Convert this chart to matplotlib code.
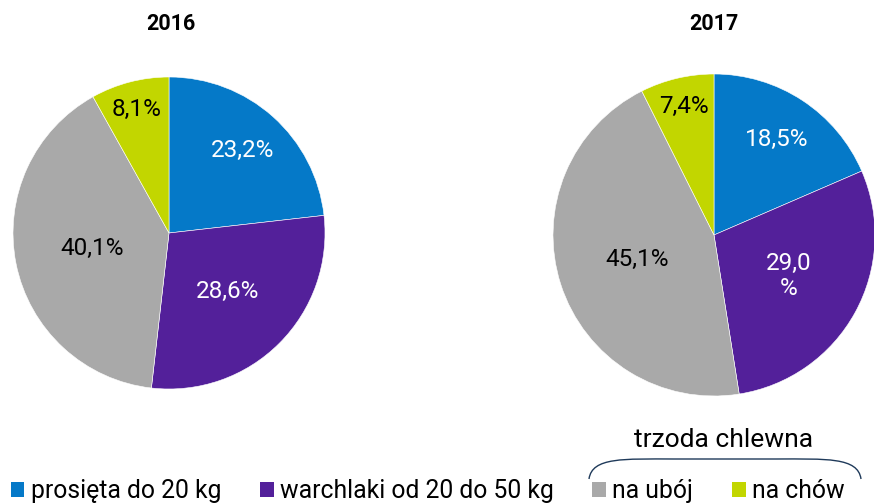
"""
Struktura zakupu trzody chlewnej 2016 vs 2017 - dwa wykresy kolowe.
"""
import numpy as np
import matplotlib.pyplot as plt
from matplotlib.path import Path
from matplotlib.patches import PathPatch, Patch

plt.rcParams['font.family'] = ['Roboto', 'DejaVu Sans']

categories = ["prosięta do 20 kg", "warchlaki od 20 do 50 kg", "na ubój", "na chów"]
years = ["2016", "2017"]
shares_2016 = [23.2, 28.6, 40.1, 8.1]
shares_2017 = [18.5, 29.0, 45.1, 7.4]
label_texts_2016 = ["23,2%", "28,6%", "40,1%", "8,1%"]
label_texts_2017 = ["18,5%", "29,0\n%", "45,1%", "7,4%"]
group_label = "trzoda chlewna"

colors = ["#0579C8", "#53209A", "#A9A9A9", "#C2D600"]
text_colors = ["white", "white", "black", "black"]
label_dist = [0.71, 0.53, 0.50, 0.82]

W, H = 874, 504


def px_axes(fig, cx, cy, r):
    # cx, cy in pixels from top-left
    return fig.add_axes([(cx - r) / W, (H - cy - r) / H, 2 * r / W, 2 * r / H])


def draw_pie(ax, values, texts):
    wedges, _ = ax.pie(values, colors=colors, startangle=90, counterclock=False,
                       radius=1, wedgeprops=dict(edgecolor="white", linewidth=0.4))
    for w, txt, tc, d in zip(wedges, texts, text_colors, label_dist):
        ang = np.deg2rad((w.theta1 + w.theta2) / 2)
        ax.text(d * np.cos(ang), d * np.sin(ang), txt, ha="center", va="center",
                fontsize=17.5, color=tc, linespacing=1.15)
    ax.set_xlim(-1, 1)
    ax.set_ylim(-1, 1)
    ax.set_aspect("equal")
    ax.axis("off")


fig = plt.figure(figsize=(W / 100, H / 100), dpi=100)

ax1 = px_axes(fig, 169, 233, 156)
draw_pie(ax1, shares_2016, label_texts_2016)
ax2 = px_axes(fig, 714, 235, 161)
draw_pie(ax2, shares_2017, label_texts_2017)

fig.text(171 / W, 1 - 24 / H, years[0], ha="center", va="center",
         fontsize=15.5, fontweight="bold")
fig.text(714 / W, 1 - 24 / H, years[1], ha="center", va="center",
         fontsize=15.5, fontweight="bold")

handles = [Patch(facecolor=c, edgecolor="none") for c in colors]
fig.legend(handles, categories, loc="lower left", bbox_to_anchor=(-0.013, -0.043),
           ncol=4, frameon=False, fontsize=17.8, handlelength=0.55,
           handleheight=0.56, handletextpad=0.26, columnspacing=1.56)

# klamra nad "na ubój" i "na chów"
x0, x1, ytop, ybot = 589, 861, 459, 479
verts = [(x0, H - ybot), (x0 + 3, H - ytop + 2), (x0 + 35, H - ytop), (x0 + 85, H - ytop),
         (x1 - 85, H - ytop), (x1 - 35, H - ytop), (x1 - 3, H - ytop + 2), (x1, H - ybot)]
codes = [Path.MOVETO, Path.CURVE4, Path.CURVE4, Path.CURVE4,
         Path.LINETO, Path.CURVE4, Path.CURVE4, Path.CURVE4]
verts = [(x / W, y / H) for x, y in verts]
fig.patches.append(PathPatch(Path(verts, codes), transform=fig.transFigure,
                             facecolor="none", edgecolor="#1F3A5A", linewidth=1))
fig.text(724 / W, 1 - 440 / H, group_label, ha="center", va="center", fontsize=19)

fig.savefig("out.png", dpi=100)
